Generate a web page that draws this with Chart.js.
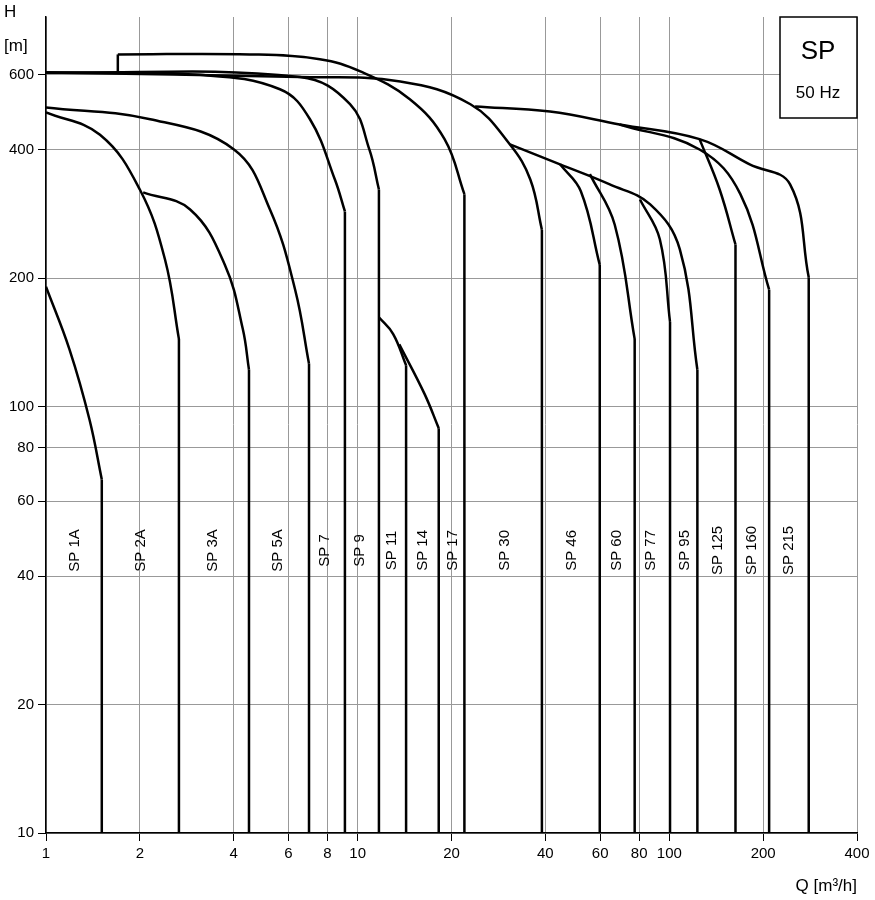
<!DOCTYPE html>
<html><head><meta charset="utf-8">
<script src="https://cdn.jsdelivr.net/npm/chart.js@4/dist/chart.umd.min.js"></script>
<style>body{margin:0;background:#fff;font-family:"Liberation Sans",Arial,sans-serif}#w{position:relative;width:875px;height:900px}</style>
</head><body><div id="w"><canvas id="c" width="875" height="900"></canvas></div>
<script>
const xTicks=[1,2,4,6,8,10,20,40,60,80,100,200,400];
const yTicks=[10,20,40,60,80,100,200,400,600];
const pumpNames=["SP 1A","SP 2A","SP 3A","SP 5A","SP 7","SP 9","SP 11","SP 14","SP 17","SP 30","SP 46","SP 60","SP 77","SP 95","SP 125","SP 160","SP 215"];
const labelQ=[1.24,2.02,3.43,5.55,7.85,10.2,12.9,16.2,20.2,29.7,48.7,67.9,87.3,112,143,184,242];
const labelH=46;
const sp1A=[[1,191],[1.19,136],[1.38,93],[1.51,67.5],[1.51,10]];
const sp2A=[[1,490],[1.49,434],[2,323],[2.41,221],[2.67,144],[2.67,10]];
const sp3A=[[2.05,318],[2.9,290],[3.75,215],[4.28,152],[4.48,122],[4.48,10]];
const sp5A=[[1,503],[2.16,472],[4.01,401],[5.23,290],[6.3,188],[6.98,126],[6.98,10]];
const sp7=[[1,608],[3.12,600],[5.63,555],[7.03,472],[8.45,341],[9.1,287],[9.1,10]];
const sp9=[[1,608],[6.53,593],[9.45,512],[10.9,401],[11.7,323],[11.7,10]];
const sp11=[[11.7,162],[13,148],[14.3,125],[14.3,10]];
const sp14=[[13.6,140],[16.4,107],[18.2,89],[18.2,10]];
const sp17=[[1.7,605],[1.7,670],[4.51,670],[7.56,653],[10.2,611],[14.7,526],[19,424],[22,315],[22,10]];
const sp30=[[1,608],[6.53,593],[13.7,579],[23,512],[30.8,412],[35.8,341],[39,260],[39,10]];
const sp46=[[44.6,370],[52,320],[59.8,215],[59.8,10]];
const sp60=[[55.6,351],[66.8,267],[77.4,144],[77.4,10]];
const sp77=[[80.5,306],[93.2,247],[100.5,158],[100.5,10]];
const sp95=[[30.8,412],[44.6,370],[64.4,332],[86.8,298],[108,234],[123,122],[123,10]];
const sp125=[[125,424],[145,323],[163,240],[163,10]];
const sp160=[[69.2,459],[125,401],[169,315],[209,188],[209,10]];
const sp215=[[23.8,506],[41.4,492],[69.2,459],[125,424],[181,370],[244,332],[280,201],[280,10]];
const curves=[sp1A,sp2A,sp3A,sp5A,sp7,sp9,sp11,sp14,sp17,sp30,sp46,sp60,sp77,sp95,sp125,sp160,sp215];

const ds=[];
curves.forEach(d=>{
  const n=d.length;
  let curve=d.slice(0,n-1);
  if(d===sp17){ds.push({data:d.slice(0,2).map(p=>({x:p[0],y:p[1]})),tension:0});curve=d.slice(1,n-1);}
  ds.push({data:curve.map(p=>({x:p[0],y:p[1]})),tension:0.4});
  ds.push({data:d.slice(n-2).map(p=>({x:p[0],y:p[1]})),tension:0});
});
ds.forEach(o=>Object.assign(o,{showLine:true,borderColor:'#000',borderWidth:2.5,pointRadius:0,fill:false}));

const labelPlugin={id:'lbl',afterDatasetsDraw(ch){
  const c=ch.ctx,xs=ch.scales.x,ys=ch.scales.y,a=ch.chartArea;
  c.save();c.fillStyle='#000';c.font='15px "Liberation Sans",Arial';c.textAlign='center';c.textBaseline='middle';
  pumpNames.forEach((n,i)=>{c.save();c.translate(xs.getPixelForValue(labelQ[i]),ys.getPixelForValue(labelH));c.rotate(-Math.PI/2);c.fillText(n,0,0);c.restore();});
  c.fillStyle='#fff';c.fillRect(780,a.top,a.right-780,101);c.strokeStyle='#000';c.lineWidth=1.5;c.strokeRect(780,a.top,a.right-780,101);
  c.fillStyle='#000';c.font='26px "Liberation Sans",Arial';c.fillText('SP',818,52);c.font='17px "Liberation Sans",Arial';c.fillText('50 Hz',818,93);
  c.font='17px "Liberation Sans",Arial';c.textAlign='left';c.fillText('H',4,12);c.fillText('[m]',4,46);
  c.textAlign='right';c.fillText('Q [m³/h]',857,886);
  c.restore();}};

new Chart(document.getElementById('c'),{type:'scatter',
 data:{datasets:ds},
 options:{responsive:false,animation:false,layout:{padding:{left:0,right:18,top:17,bottom:0}},
  plugins:{legend:{display:false},tooltip:{enabled:false}},
  scales:{
   x:{type:'logarithmic',min:1,max:400,afterBuildTicks(s){s.ticks=xTicks.map(v=>({value:v}));},
      ticks:{color:'#000',font:{size:15,family:'"Liberation Sans",Arial'},autoSkip:false,maxRotation:0,callback:v=>String(v),padding:4},
      grid:{color:'#999',lineWidth:1,tickLength:8,tickColor:'#000'},border:{color:'#000',width:1.5},afterFit(s){s.height=67;}},
   y:{type:'logarithmic',min:10,max:820,afterBuildTicks(s){s.ticks=yTicks.map(v=>({value:v}));},
      ticks:{color:'#000',font:{size:15,family:'"Liberation Sans",Arial'},autoSkip:false,callback:v=>String(v),padding:4},
      grid:{color:'#999',lineWidth:1,tickLength:8,tickColor:'#000'},border:{color:'#000',width:1.5},afterFit(s){s.width=46;}}
  }},plugins:[labelPlugin]});
</script></body></html>
